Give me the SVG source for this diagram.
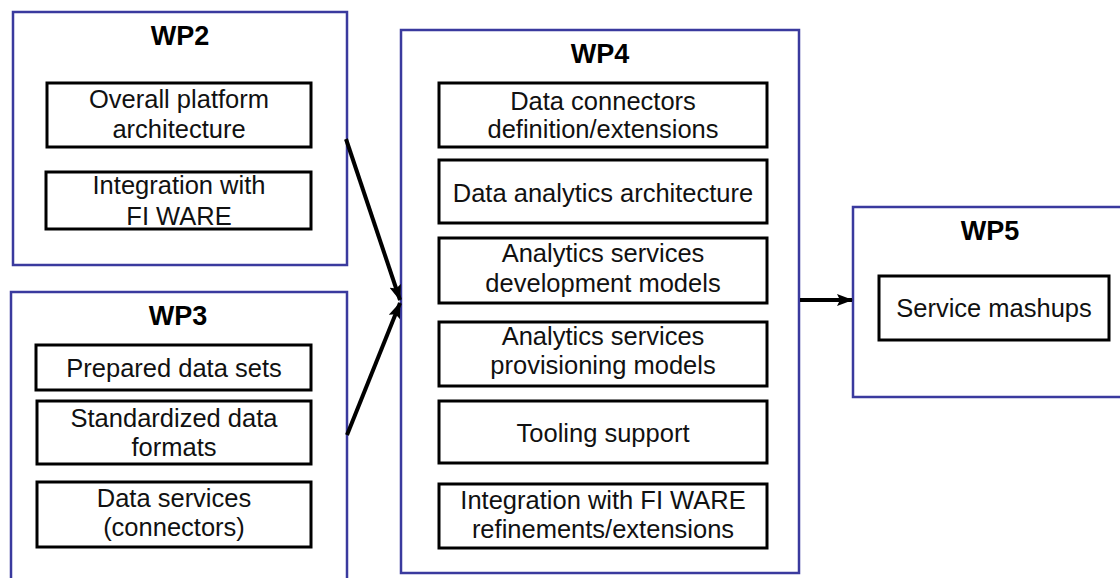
<svg xmlns="http://www.w3.org/2000/svg" width="1120" height="578" viewBox="0 0 1120 578">
  <style>
    .wp { fill: #ffffff; stroke: #3a3a9e; stroke-width: 2.5; }
    .item { fill: #ffffff; stroke: #000000; stroke-width: 3; }
    .title { font-family: "Liberation Sans", Arial, sans-serif; font-weight: bold; font-size: 27px; fill: #000; text-anchor: middle; }
    .label { font-family: "Liberation Sans", Arial, sans-serif; font-size: 25.5px; fill: #111; text-anchor: middle; }
    .conn { stroke: #000; stroke-width: 4; fill: none; marker-end: url(#head); }
  </style>
  <defs>
    <marker id="head" viewBox="0 0 16 12" refX="15" refY="6" markerWidth="16" markerHeight="12" markerUnits="userSpaceOnUse" orient="auto">
      <path d="M0,0 L16,6 L0,12 L3,6 Z" fill="#000"/>
    </marker>
  </defs>
  <rect width="1120" height="578" fill="#ffffff"/>

  <!-- WP2 -->
  <g id="wp2">
    <rect class="wp" x="13" y="12" width="334" height="253"/>
    <text class="title" x="180" y="45">WP2</text>
    <rect class="item" x="47" y="83" width="264" height="64"/>
    <text class="label" x="179" y="108">Overall platform</text>
    <text class="label" x="179" y="138">architecture</text>
    <rect class="item" x="46" y="172" width="265" height="57"/>
    <text class="label" x="179" y="194">Integration with</text>
    <text class="label" x="179" y="225">FI WARE</text>
  </g>

  <!-- WP3 -->
  <g id="wp3">
    <rect class="wp" x="11" y="292" width="336" height="300"/>
    <text class="title" x="178" y="325">WP3</text>
    <rect class="item" x="36" y="345" width="275" height="45"/>
    <text class="label" x="174" y="377">Prepared data sets</text>
    <rect class="item" x="37" y="401" width="274" height="63"/>
    <text class="label" x="174" y="427">Standardized data</text>
    <text class="label" x="174" y="456">formats</text>
    <rect class="item" x="37" y="482" width="274" height="65"/>
    <text class="label" x="174" y="507">Data services</text>
    <text class="label" x="174" y="536">(connectors)</text>
  </g>

  <!-- WP4 -->
  <g id="wp4">
    <rect class="wp" x="401" y="30" width="398" height="543"/>
    <text class="title" x="600" y="63">WP4</text>
    <rect class="item" x="439" y="83" width="328" height="64"/>
    <text class="label" x="603" y="110">Data connectors</text>
    <text class="label" x="603" y="138">definition/extensions</text>
    <rect class="item" x="439" y="160" width="328" height="63"/>
    <text class="label" x="603" y="202">Data analytics architecture</text>
    <rect class="item" x="439" y="238" width="328" height="65"/>
    <text class="label" x="603" y="262">Analytics services</text>
    <text class="label" x="603" y="292">development models</text>
    <rect class="item" x="439" y="322" width="328" height="64"/>
    <text class="label" x="603" y="345">Analytics services</text>
    <text class="label" x="603" y="374">provisioning models</text>
    <rect class="item" x="439" y="401" width="328" height="62"/>
    <text class="label" x="603" y="442">Tooling support</text>
    <rect class="item" x="439" y="484" width="328" height="64"/>
    <text class="label" x="603" y="509">Integration with FI WARE</text>
    <text class="label" x="603" y="538">refinements/extensions</text>
  </g>

  <!-- WP5 -->
  <g id="wp5">
    <rect class="wp" x="853" y="207" width="280" height="190"/>
    <text class="title" x="990" y="240">WP5</text>
    <rect class="item" x="879" y="276" width="230" height="64"/>
    <text class="label" x="994" y="317">Service mashups</text>
  </g>

  <!-- Connectors -->
  <g id="connectors">
    <line class="conn" x1="346" y1="139" x2="400" y2="300"/>
    <line class="conn" x1="347" y1="435" x2="400" y2="303"/>
    <line class="conn" x1="800" y1="300" x2="852" y2="300"/>
  </g>
</svg>
